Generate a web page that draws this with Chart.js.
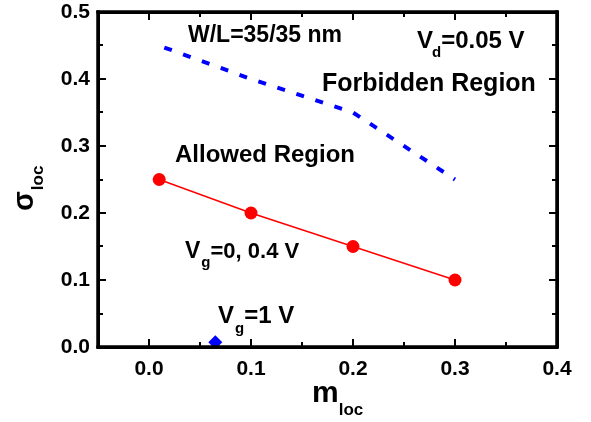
<!DOCTYPE html>
<html>
<head>
<meta charset="utf-8">
<script src="https://cdn.jsdelivr.net/npm/chart.js@4/dist/chart.umd.min.js"></script>
<style>
  html, body { margin: 0; padding: 0; background: white; }
  #wrap { width: 591px; height: 422px; }
</style>
</head>
<body>
<div id="wrap"><canvas id="chart" width="591" height="422"></canvas></div>
<script>
// data
const allowedX = [0.01, 0.1, 0.2, 0.3]
const allowedY = [0.25, 0.2, 0.15, 0.1]
const boundaryX = [0.015, 0.1, 0.2, 0.3]
const boundaryY = [0.447, 0.4, 0.35, 0.25]
const vg1X = [0.065]
const vg1Y = [0.007]
const xTicks = [0.0, 0.1, 0.2, 0.3, 0.4]
const yTicks = [0.0, 0.1, 0.2, 0.3, 0.4, 0.5]

const FONT = '"Liberation Sans", Arial, sans-serif'

function pts(xs, ys) {
  return xs.map((x, i) => ({x: x, y: ys[i]}))
}

// draws text with subscripts, segments = [text, size, dy, dx]
function rich(ctx, x, y, segs) {
  let cx = x
  for (const s of segs) {
    ctx.font = `bold ${s[1]}px ${FONT}`
    cx += s[3] || 0
    ctx.fillText(s[0], cx, y + (s[2] || 0))
    cx += ctx.measureText(s[0]).width
  }
}

// inward tick marks on all four sides
function drawTicks(chart) {
  const ctx = chart.ctx
  const xs = chart.scales.x, ys = chart.scales.y
  const left = Math.round(xs.left), right = Math.round(xs.right)
  const top = Math.round(ys.top), bottom = Math.round(ys.bottom)
  ctx.save()
  ctx.fillStyle = '#000000'
  ctx.font = '10px sans-serif'
  ctx.fillText(' ', 440, 415)
  ctx.fillRect(left - 1.5, top - 1.5, right - left + 3, 3)
  ctx.fillRect(left - 1.5, bottom - 1.5, right - left + 3, 3)
  ctx.fillRect(left - 1.5, top - 1.5, 3, bottom - top + 3)
  ctx.fillRect(right - 1.5, top - 1.5, 3, bottom - top + 3)
  for (let i = 0; i <= 8; i++) {
    const px = Math.round(xs.getPixelForValue(i * 0.05))
    const len = i % 2 == 0 ? 8 : 5
    ctx.fillRect(px - 1, bottom - len, 2, len)
    ctx.fillRect(px - 1, top, 2, len)
  }
  for (let i = 0; i <= 10; i++) {
    const py = Math.round(ys.getPixelForValue(i * 0.05))
    const len = i % 2 == 0 ? 8 : 5
    ctx.fillRect(left, py - 1, len, 2)
    ctx.fillRect(right - len, py - 1, len, 2)
  }
  ctx.restore()
}

const frameAndText = {
  id: 'frameAndText',
  afterDatasetsDraw(chart) {
    drawTicks(chart)
  },
  afterDraw(chart) {
    const ctx = chart.ctx
    drawTicks(chart)
    ctx.save()
    ctx.fillStyle = '#000000'
    ctx.textAlign = 'left'
    ctx.textBaseline = 'alphabetic'
    rich(ctx, 188, 42, [['W/L=35/35 nm', 23]])
    rich(ctx, 417, 48, [['V', 24], ['d', 15, 9, -1], ['=0.05 V', 24]])
    rich(ctx, 322, 91, [['Forbidden Region', 25]])
    rich(ctx, 175, 162, [['Allowed Region', 24]])
    rich(ctx, 185, 258, [['V', 23], ['g', 15, 9, 1], ['=0, 0.4 V', 22]])
    rich(ctx, 218, 323, [['V', 24], ['g', 15, 10, 1], ['=1 V', 24]])
    rich(ctx, 312, 402, [['m', 30], ['loc', 17, 13]])
    ctx.translate(33, 211)
    ctx.rotate(-Math.PI / 2)
    rich(ctx, 0, 0, [['σ', 29], ['loc', 17, 10, 1]])
    ctx.restore()
  }
}

const frameBorder = {display: true, color: '#000000', width: 3}
const tickFont = {family: FONT, size: 21, weight: 'bold'}

const config = {
  type: 'scatter',
  data: {
    datasets: [{
      label: 'boundary',
      data: pts(boundaryX, boundaryY),
      showLine: true,
      borderColor: '#0000ff',
      borderWidth: 4,
      borderDash: [8, 12],
      borderCapStyle: 'butt',
      pointRadius: 0,
      tension: 0
    }, {
      label: 'Vg=0, 0.4 V',
      data: pts(allowedX, allowedY),
      showLine: true,
      borderColor: '#ff0000',
      borderWidth: 1.5,
      pointRadius: 6.5,
      pointBackgroundColor: '#ff0000',
      pointBorderWidth: 0,
      tension: 0
    }, {
      label: 'Vg=1 V',
      data: pts(vg1X, vg1Y),
      pointStyle: 'rectRot',
      pointRadius: 7,
      pointBackgroundColor: '#0000ff',
      pointBorderWidth: 0
    }]
  },
  options: {
    responsive: false,
    animation: false,
    layout: {padding: {top: 12, right: 34, left: 0, bottom: 0}},
    plugins: {legend: {display: false}, tooltip: {enabled: false}},
    scales: {
      x: {
        type: 'linear', min: -0.05, max: 0.4,
        grid: {display: false, drawTicks: false},
        border: frameBorder,
        afterBuildTicks: (s) => { s.ticks = xTicks.map(v => ({value: v})) },
        afterFit: (s) => { s.height = 75; s.paddingLeft = 0; s.paddingRight = 0 },
        ticks: {color: 'black', padding: 10, maxRotation: 0, font: tickFont,
          callback: v => Number(v).toFixed(1)}
      },
      y: {
        type: 'linear', min: 0, max: 0.5,
        grid: {display: false, drawTicks: false},
        border: frameBorder,
        afterBuildTicks: (s) => { s.ticks = yTicks.map(v => ({value: v})) },
        afterFit: (s) => { s.width = 98; s.paddingTop = 0; s.paddingBottom = 0 },
        ticks: {color: 'black', padding: 8, font: tickFont,
          callback: v => Number(v).toFixed(1)}
      },
      x2: {
        type: 'linear', position: 'top', min: -0.05, max: 0.4,
        grid: {display: false, drawTicks: false},
        border: frameBorder,
        ticks: {display: false},
        afterFit: (s) => { s.height = 0; s.paddingLeft = 0; s.paddingRight = 0 }
      },
      y2: {
        type: 'linear', position: 'right', min: 0, max: 0.5,
        grid: {display: false, drawTicks: false},
        border: frameBorder,
        ticks: {display: false},
        afterFit: (s) => { s.width = 0; s.paddingTop = 0; s.paddingBottom = 0 }
      }
    }
  },
  plugins: [frameAndText]
}

const myChart = new Chart(document.getElementById('chart'), config)
</script>
</body>
</html>
